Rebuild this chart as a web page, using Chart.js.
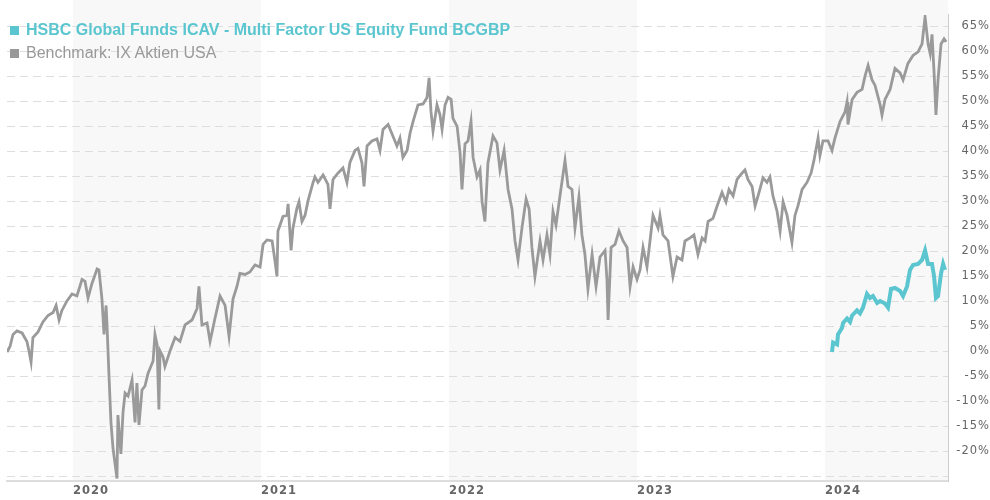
<!DOCTYPE html>
<html>
<head>
<meta charset="utf-8">
<script src="https://cdn.jsdelivr.net/npm/chart.js@4.4.0/dist/chart.umd.min.js"></script>
<style>
  body { margin: 0; background: #fff; overflow: hidden; }
  #wrap { position: relative; width: 990px; height: 500px; }
  #legend { position: absolute; left: 10px; top: 18px; font-family: "Liberation Sans", Arial, sans-serif; font-size: 16px; line-height: 23px; }
  #legend .sq { display: inline-block; width: 9px; height: 9px; margin-right: 7px; vertical-align: 0px; }
  .fund { color: #5bc6cf; font-weight: bold; }
  .bench { color: #999; }
</style>
</head>
<body>
<div id="wrap">
  <canvas id="chart" width="990" height="500"></canvas>
  <div id="legend">
    <div class="fund"><span class="sq" style="background:#5bc6cf"></span>HSBC Global Funds ICAV - Multi Factor US Equity Fund BCGBP</div>
    <div class="bench"><span class="sq" style="background:#999"></span>Benchmark: IX Aktien USA</div>
  </div>
</div>
<script>
// x values are decimal years, y values are performance in %
const benchYears = [
  2019.649, 2019.665, 2019.681, 2019.702, 2019.729, 2019.755, 2019.766, 2019.777, 2019.787, 2019.814,
  2019.840, 2019.867, 2019.894, 2019.910, 2019.926, 2019.941, 2019.968, 2019.995, 2020.021, 2020.048,
  2020.064, 2020.080, 2020.101, 2020.128, 2020.138, 2020.154, 2020.165, 2020.176, 2020.181, 2020.191,
  2020.202, 2020.213, 2020.234, 2020.239, 2020.255, 2020.266, 2020.277, 2020.293, 2020.314, 2020.330,
  2020.340, 2020.351, 2020.367, 2020.383, 2020.399, 2020.426, 2020.436, 2020.447, 2020.457, 2020.463,
  2020.479, 2020.489, 2020.516, 2020.543, 2020.569, 2020.596, 2020.633, 2020.660, 2020.670, 2020.686,
  2020.713, 2020.729, 2020.755, 2020.782, 2020.809, 2020.830, 2020.851, 2020.872, 2020.888, 2020.915,
  2020.941, 2020.968, 2020.995, 2021.011, 2021.032, 2021.059, 2021.074, 2021.085, 2021.090, 2021.117,
  2021.138, 2021.144, 2021.160, 2021.170, 2021.191, 2021.202, 2021.218, 2021.234, 2021.250, 2021.277,
  2021.287, 2021.303, 2021.330, 2021.356, 2021.367, 2021.383, 2021.410, 2021.436, 2021.457, 2021.473,
  2021.500, 2021.516, 2021.537, 2021.548, 2021.564, 2021.590, 2021.617, 2021.633, 2021.649, 2021.676,
  2021.697, 2021.723, 2021.739, 2021.755, 2021.777, 2021.793, 2021.809, 2021.835, 2021.862, 2021.883,
  2021.894, 2021.904, 2021.915, 2021.936, 2021.952, 2021.963, 2021.979, 2021.995, 2022.011, 2022.021,
  2022.043, 2022.059, 2022.069, 2022.085, 2022.101, 2022.117, 2022.128, 2022.149, 2022.165, 2022.176,
  2022.191, 2022.207, 2022.234, 2022.255, 2022.271, 2022.293, 2022.314, 2022.335, 2022.351, 2022.367,
  2022.388, 2022.410, 2022.426, 2022.441, 2022.457, 2022.484, 2022.500, 2022.521, 2022.537, 2022.553,
  2022.569, 2022.590, 2022.617, 2022.633, 2022.654, 2022.670, 2022.691, 2022.707, 2022.723, 2022.739,
  2022.761, 2022.782, 2022.803, 2022.830, 2022.840, 2022.846, 2022.862, 2022.883, 2022.904, 2022.926,
  2022.947, 2022.963, 2022.979, 2023.000, 2023.016, 2023.032, 2023.053, 2023.069, 2023.085, 2023.112,
  2023.122, 2023.138, 2023.165, 2023.191, 2023.213, 2023.239, 2023.255, 2023.282, 2023.303, 2023.324,
  2023.346, 2023.362, 2023.378, 2023.404, 2023.426, 2023.452, 2023.473, 2023.489, 2023.511, 2023.532,
  2023.559, 2023.574, 2023.590, 2023.612, 2023.628, 2023.649, 2023.670, 2023.691, 2023.707, 2023.723,
  2023.745, 2023.761, 2023.777, 2023.798, 2023.824, 2023.840, 2023.856, 2023.878, 2023.904, 2023.926,
  2023.941, 2023.963, 2023.973, 2023.989, 2024.016, 2024.037, 2024.053, 2024.080, 2024.106, 2024.117,
  2024.122, 2024.144, 2024.170, 2024.197, 2024.213, 2024.229, 2024.250, 2024.266, 2024.293, 2024.303,
  2024.319, 2024.346, 2024.372, 2024.399, 2024.415, 2024.441, 2024.468, 2024.495, 2024.516, 2024.532,
  2024.548, 2024.559, 2024.569, 2024.580, 2024.590, 2024.601, 2024.617, 2024.633, 2024.644
];
const benchPct = [
  -0.1, 1.0, 3.4, 4.1, 3.7, 2.0, 0.1, -2.1, 2.8, 3.9,
  5.9, 7.2, 7.8, 9.2, 6.3, 8.2, 10.1, 11.5, 11.1, 14.4,
  14.0, 10.7, 13.6, 16.5, 16.3, 10.5, 3.4, 9.2, 5.3, -4.4,
  -14.2, -19.4, -25.4, -12.7, -20.5, -12.2, -8.3, -8.9, -5.7, -14.2,
  -6.3, -14.7, -7.7, -6.9, -4.4, -1.9, 3.4, 1.4, -11.6, 0.1,
  -1.1, -3.0, 0.1, 2.8, 2.0, 5.3, 6.3, 8.6, 13.0, 5.3,
  5.7, 2.0, 6.6, 11.1, 9.2, 3.0, 10.5, 13.0, 15.6, 15.4,
  15.9, 17.3, 16.9, 21.4, 22.3, 22.1, 18.2, 15.0, 24.1, 27.0,
  27.2, 29.5, 20.2, 24.7, 28.6, 29.9, 26.0, 27.2, 30.1, 33.8,
  34.9, 33.8, 35.3, 33.4, 28.5, 34.4, 35.7, 36.7, 33.8, 37.8,
  40.2, 40.6, 37.7, 33.0, 41.1, 42.1, 42.5, 40.2, 44.4, 45.4,
  43.5, 41.1, 42.7, 38.8, 40.2, 43.7, 46.0, 49.3, 49.5, 50.8,
  54.7, 48.0, 44.1, 49.3, 47.3, 44.4, 49.3, 50.8, 50.4, 46.6,
  45.0, 39.6, 32.4, 41.5, 42.1, 46.0, 38.8, 34.9, 36.3, 29.9,
  26.0, 37.7, 43.1, 41.7, 36.3, 40.2, 32.4, 28.5, 22.1, 18.3,
  24.7, 30.5, 28.5, 20.8, 15.0, 22.1, 18.3, 23.3, 19.4, 28.0,
  25.3, 31.1, 38.2, 33.0, 32.4, 24.7, 30.9, 23.3, 19.4, 12.5,
  19.4, 13.0, 18.9, 20.2, 14.4, 6.3, 20.8, 21.4, 24.1, 22.1,
  20.8, 13.0, 16.9, 14.4, 16.3, 20.8, 16.9, 22.1, 27.2, 24.7,
  27.2, 23.3, 22.1, 15.0, 18.9, 18.3, 22.1, 22.7, 23.3, 19.4,
  22.7, 22.1, 26.0, 26.6, 29.1, 31.8, 29.9, 32.4, 31.1, 34.4,
  35.7, 36.3, 34.4, 33.0, 29.1, 31.8, 34.7, 33.8, 34.9, 31.1,
  28.0, 24.1, 29.9, 27.2, 21.8, 27.2, 29.1, 32.4, 33.8, 35.7,
  38.2, 42.7, 39.2, 42.1, 42.1, 40.2, 42.7, 46.0, 47.9, 49.9,
  45.4, 50.4, 51.8, 52.4, 55.1, 57.2, 54.3, 53.2, 49.3, 47.3,
  50.4, 52.4, 56.6, 55.7, 54.3, 57.6, 59.2, 59.9, 61.5, 66.9,
  61.5, 59.6, 63.4, 55.7, 47.3, 54.3, 61.5, 62.5, 61.9
];
const fundYears = [
  2024.037, 2024.043, 2024.064, 2024.069, 2024.090, 2024.096, 2024.117, 2024.133, 2024.144, 2024.170,
  2024.186, 2024.202, 2024.223, 2024.239, 2024.255, 2024.277, 2024.293, 2024.319, 2024.335, 2024.351,
  2024.372, 2024.399, 2024.415, 2024.436, 2024.452, 2024.468, 2024.495, 2024.516, 2024.532, 2024.548,
  2024.569, 2024.580, 2024.590, 2024.601, 2024.617, 2024.628, 2024.638
];
const fundPct = [
  -0.1, 1.8, 1.4, 3.4, 4.7, 5.7, 6.6, 5.9, 7.2, 8.2,
  7.6, 8.8, 11.5, 10.7, 11.1, 9.7, 10.1, 9.6, 8.8, 12.5,
  12.7, 12.1, 11.1, 13.0, 16.3, 17.3, 17.5, 18.3, 20.2, 17.5,
  17.5, 15.0, 10.7, 11.1, 15.6, 17.5, 16.3
];
const yearTicks = [2020, 2021, 2022, 2023, 2024];
const shadedYears = [2020, 2022, 2024];
const pctTicks = [-25, -20, -15, -10, -5, 0, 5, 10, 15, 20, 25, 30, 35, 40, 45, 50, 55, 60, 65];

const toPoints = (xs, ys) => xs.map((x, i) => ({ x: x, y: ys[i] }));

// alternating year background bands, drawn under the grid
const yearBands = {
  id: "yearBands",
  beforeDraw(chart) {
    const { ctx, chartArea, scales } = chart;
    ctx.save();
    ctx.fillStyle = "#f8f8f8";
    shadedYears.forEach(y => {
      const x1 = Math.max(scales.x.getPixelForValue(y), chartArea.left);
      const x2 = Math.min(scales.x.getPixelForValue(y + 1), chartArea.right);
      if (x2 > x1) ctx.fillRect(x1, 0, x2 - x1, chartArea.bottom);
    });
    ctx.restore();
    ctx.letterSpacing = "1px";
  },
  afterDraw(chart) {
    chart.ctx.letterSpacing = "0px";
  }
};

new Chart(document.getElementById("chart"), {
  type: "line",
  data: {
    datasets: [
      { label: "HSBC Global Funds ICAV - Multi Factor US Equity Fund BCGBP", data: toPoints(fundYears, fundPct),
        borderColor: "#5bc6cf", borderWidth: 4, pointRadius: 0, tension: 0 },
      { label: "Benchmark: IX Aktien USA", data: toPoints(benchYears, benchPct),
        borderColor: "#9a9a9a", borderWidth: 2.8, pointRadius: 0, tension: 0 }
    ]
  },
  options: {
    responsive: false,
    animation: false,
    layout: { padding: { left: 7, right: 0, top: 0, bottom: 0 } },
    plugins: { legend: { display: false }, tooltip: { enabled: false } },
    scales: {
      x: {
        type: "linear",
        min: 2019.649,
        max: 2024.654,
        afterBuildTicks: s => { s.ticks = yearTicks.map(v => ({ value: v })); },
        afterFit: s => { s.height = 19; },
        grid: { display: false, drawTicks: false },
        border: { display: true, color: "#dddddd", width: 2 },
        ticks: {
          align: "start", padding: 3, maxRotation: 0, autoSkip: false,
          color: "#666", font: { family: "DejaVu Sans", size: 11.5, weight: "bold" },
          callback: v => String(v)
        }
      },
      y: {
        position: "right",
        min: -25.9,
        max: 67.3,
        afterBuildTicks: s => { s.ticks = pctTicks.map(v => ({ value: v })); },
        afterFit: s => { s.width = 42; },
        grid: { color: "#dedede", lineWidth: 1, drawTicks: false },
        border: { display: true, color: "#cccccc", width: 1, dash: [8, 5] },
        ticks: {
          crossAlign: "far", padding: 8, autoSkip: false,
          color: "#666", font: { family: "DejaVu Sans", size: 11.5 },
          callback: v => (v === -25 ? "" : v + "%")
        }
      }
    }
  },
  plugins: [yearBands]
});
</script>
</body>
</html>
